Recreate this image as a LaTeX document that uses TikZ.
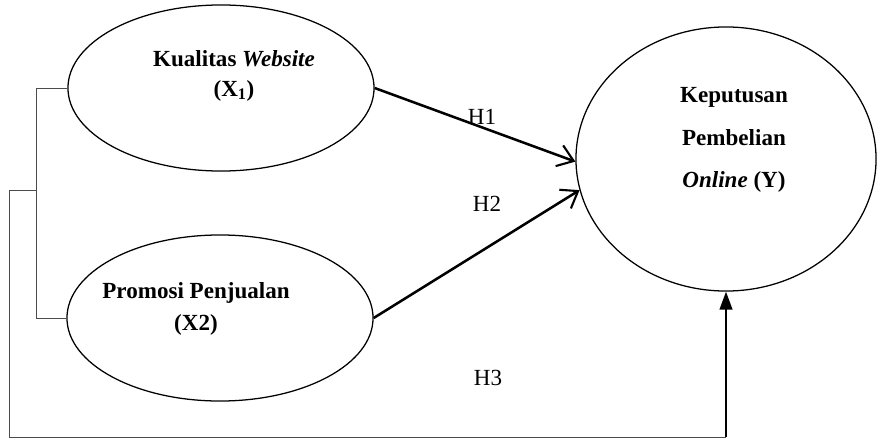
\documentclass[tikz,border=0pt]{standalone}
\usepackage{fontspec}
\setmainfont{Liberation Serif}
\usetikzlibrary{shapes.geometric,arrows.meta}
\tikzset{
  var/.style={draw,ellipse,line width=0.9pt,inner sep=0pt},
  vartxt/.style={font=\fontsize{16.4}{21}\selectfont\bfseries,align=center},
  hlab/.style={font=\fontsize{16.4}{20}\selectfont},
  hyp/.style={line width=1.8pt,-{Straight Barb[length=0.38cm,width=0.55cm,line width=1.5pt]}},
  frame/.style={draw=black!70,line width=0.6pt}
}
\begin{document}
\begin{tikzpicture}[x=0.025cm,y=-0.025cm]
    \useasboundingbox (0,0) rectangle (880,440);
    % variabel
    \node[var,minimum width=7.65cm,minimum height=4.15cm] (web) at (221,88) {};
    \node[var,minimum width=7.65cm,minimum height=4.15cm] (promo) at (220,318) {};
    \node[var,minimum width=7.5cm,minimum height=6.6cm] (kpy) at (726,159) {};
    \node[vartxt] (webtxt) at (234,76) {Kualitas \textit{Website}\\(X\textsubscript{1})};
    \node[vartxt] (promotxt) at (196,309) {Promosi Penjualan\\[1.5pt](X2)};
    \node[vartxt] (kpytxt) at (734,140) {Keputusan\\[9.5pt]Pembelian\\[9.5pt]\textit{Online} (Y)};
    % hipotesis
    \draw[hyp] (web.east) -- (kpy.181);
    \draw[hyp] (promo.east) -- (kpy.192);
    \node[hlab] (h1) at (482,117) {H1};
    \node[hlab] (h2) at (487,204) {H2};
    \node[hlab] (h3) at (488,378) {H3};
    % garis bersama X1 dan X2
    \draw[frame] (web.west) -- ++(-31,0) |- (promo.west);
    \coordinate (tap) at (37,190);
    \coordinate (corner) at (9,437);
    \coordinate (turn) at (kpy.south |- corner);
    \draw[frame] (tap) -| (corner) -- (turn);
    \draw[line width=1.3pt,-{Triangle[length=0.45cm,width=0.32cm]}] (turn) -- (kpy.south);
\end{tikzpicture}
\end{document}
